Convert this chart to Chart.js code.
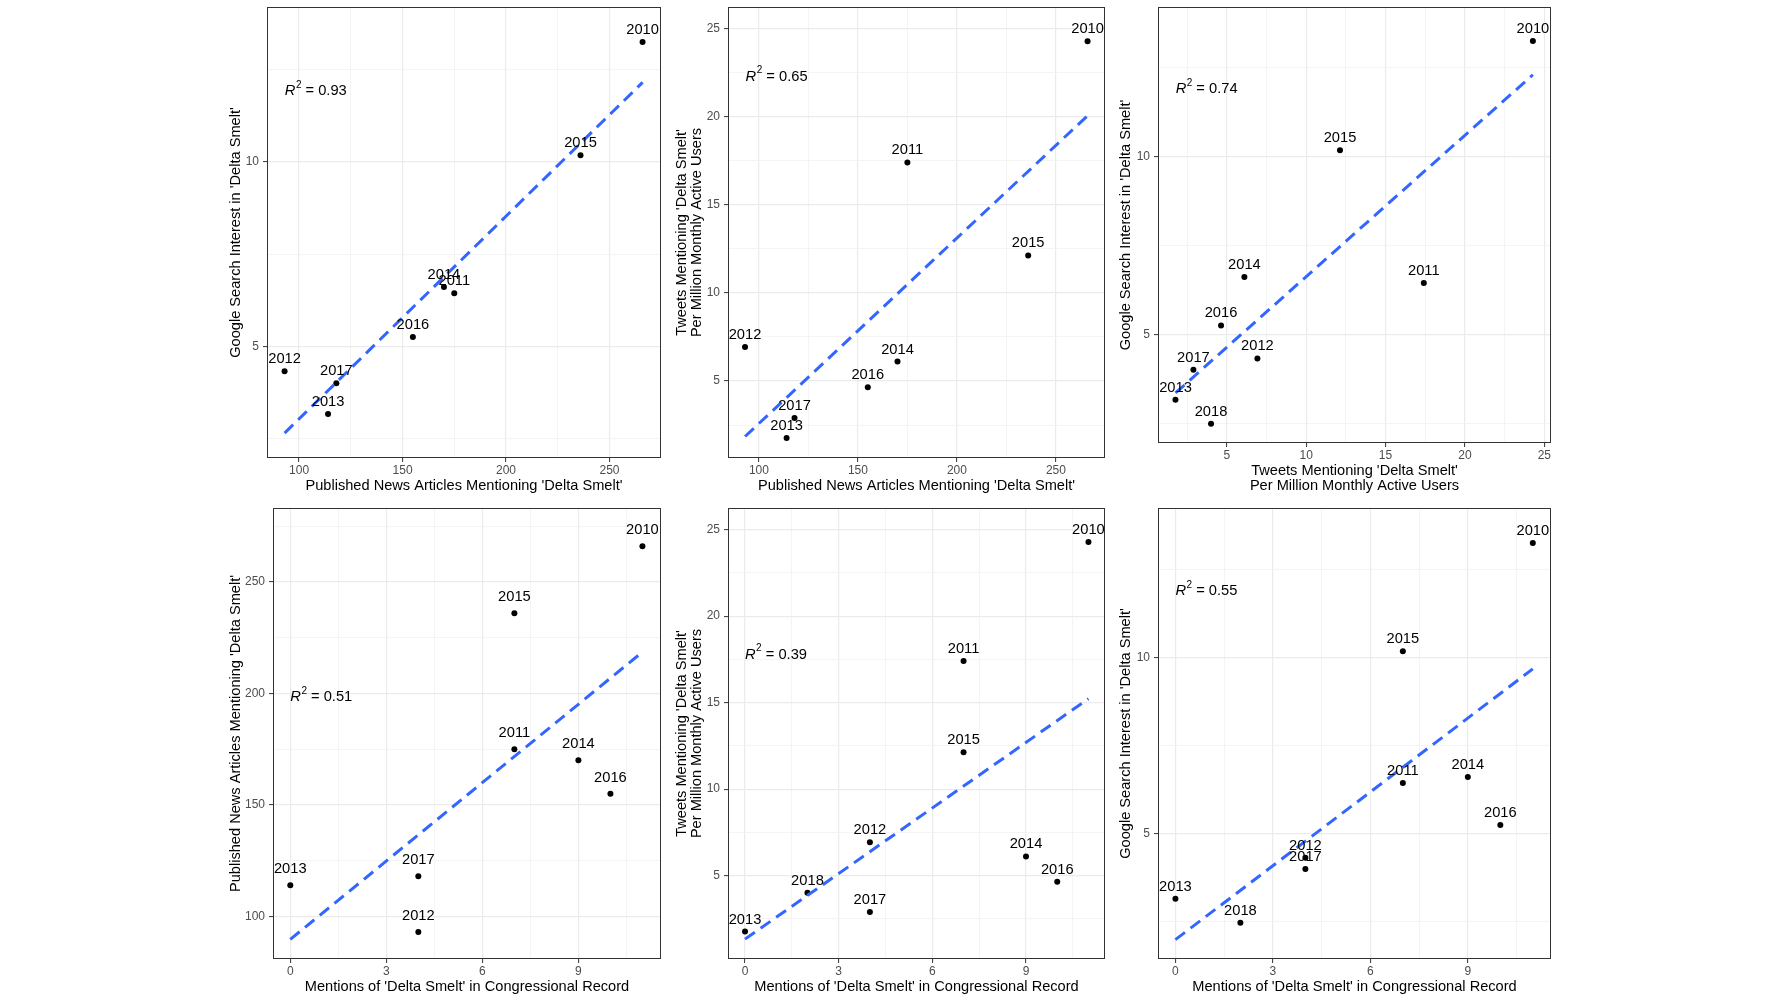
<!DOCTYPE html>
<html>
<head>
<meta charset="utf-8">
<script src="https://cdn.jsdelivr.net/npm/chart.js@4.4.1/dist/chart.umd.min.js"></script>
<style>
html,body{margin:0;padding:0;background:#ffffff;}
body{width:1781px;height:1002px;position:relative;overflow:hidden;}
canvas{position:absolute;}
</style>
</head>
<body>
<canvas id="c0"></canvas>
<canvas id="c1"></canvas>
<canvas id="c2"></canvas>
<canvas id="c3"></canvas>
<canvas id="c4"></canvas>
<canvas id="c5"></canvas>
<script>
// ---------------- data ----------------
const years    = [2010, 2011, 2012, 2013, 2014, 2015, 2016, 2017, 2018];
const news     = [266, 175, 93, 114, 170, 236, 155, 118, null];
const google   = [13.25, 6.44, 4.32, 3.16, 6.61, 10.18, 5.25, 4.0, 2.48];
const tweets   = [24.28, 17.41, 6.93, 1.77, 6.11, 12.13, 4.64, 2.9, 4.01];
const congress = [11, 7, 4, 0, 9, 7, 10, 4, 2];

const r2Labels = ['0.93', '0.65', '0.74', '0.51', '0.39', '0.55'];
const r2X      = [93.1, 93.3, 1.78, 0, 0, 0];
const r2Y      = [11.94, 22.33, 11.93, 198.7, 17.83, 11.92];

const ticksNews     = [100, 150, 200, 250];
const ticksGoogle   = [5, 10];
const ticksTweets   = [5, 10, 15, 20, 25];
const ticksCongress = [0, 3, 6, 9];

const titleNews     = "Published News Articles Mentioning 'Delta Smelt'";
const titleGoogle   = "Google Search Interest in 'Delta Smelt'";
const titleTweets   = ["Tweets Mentioning 'Delta Smelt'", "Per Million Monthly Active Users"];
const titleCongress = "Mentions of 'Delta Smelt' in Congressional Record";

const series = {news, google, tweets, congress};
const ticksOf = {news: ticksNews, google: ticksGoogle, tweets: ticksTweets, congress: ticksCongress};
const titleOf = {news: titleNews, google: titleGoogle, tweets: titleTweets, congress: titleCongress};

// ---------------- layout / style ----------------
const FONT = "'Liberation Sans', Arial, Helvetica, sans-serif";
const panels = [
  {x:'news',     y:'google', xr:[84.5, 274.9],  yr:[1.97, 14.2],  g:{left:228,  top:7,   w:433, h:487, wy:39, hx:36}, off:13},
  {x:'news',     y:'tweets', xr:[84.4, 274.8],  yr:[0.63, 26.23], g:{left:674,  top:7,   w:431, h:487, wy:54, hx:36}, off:13},
  {x:'tweets',   y:'google', xr:[0.67, 25.42],  yr:[1.94, 14.21], g:{left:1118, top:7,   w:433, h:487, wy:40, hx:51}, off:13},
  {x:'congress', y:'news',   xr:[-0.54, 11.58], yr:[80.9, 283.2], g:{left:228,  top:508, w:433, h:487, wy:45, hx:36}, off:17},
  {x:'congress', y:'tweets', xr:[-0.545, 11.53],yr:[0.18, 26.25], g:{left:674,  top:508, w:431, h:487, wy:54, hx:36}, off:13},
  {x:'congress', y:'google', xr:[-0.536, 11.56],yr:[1.45, 14.24], g:{left:1118, top:508, w:433, h:487, wy:40, hx:36}, off:13}
];

function withMinor(major, lo, hi) {
  const step = major[1] - major[0];
  const all = major.slice();
  for (let v = major[0] - step / 2; v <= hi; v += step) {
    if (v >= lo) all.push(Math.round(v * 1000) / 1000);
  }
  return all.sort((a, b) => a - b);
}

function axisOpts(kind, major, range, title, g, isX) {
  const all = withMinor(major, range[0], range[1]);
  const isMajor = v => major.includes(v);
  return {
    type: 'linear',
    position: isX ? 'bottom' : 'left',
    min: range[0], max: range[1],
    afterBuildTicks: s => { s.ticks = all.map(v => ({value: v})); },
    afterFit: s => {
      if (isX) s.height = g.hx; else s.width = g.wy;
      s.paddingTop = 0; s.paddingBottom = 0; s.paddingLeft = 0; s.paddingRight = 0;
    },
    ticks: {
      callback: v => isMajor(v) ? String(v) : '',
      font: {family: FONT, size: 12},
      color: '#4D4D4D',
      padding: isX ? 1 : 4,
      autoSkip: false, maxRotation: 0, minRotation: 0
    },
    grid: {
      color: c => (c.tick && isMajor(c.tick.value)) ? '#EBEBEB' : '#F1F1F1',
      lineWidth: c => (c.tick && isMajor(c.tick.value)) ? 1.2 : 0.8,
      drawTicks: true,
      tickLength: 4,
      tickWidth: 1,
      tickColor: c => (c.tick && isMajor(c.tick.value)) ? '#333333' : 'rgba(0,0,0,0)'
    },
    border: {display: false},
    title: {
      display: true, text: title, color: '#000000', padding: 0,
      font: {family: FONT, size: 14.6, lineHeight: 1.06}
    }
  };
}

function makeChart(i) {
  const p = panels[i];
  const xs = series[p.x], ys = series[p.y];
  const pts = [];
  years.forEach((yr, k) => {
    if (xs[k] != null && ys[k] != null) pts.push({x: xs[k], y: ys[k], year: yr});
  });
  // least-squares fit (as geom_smooth(method = "lm"))
  const n = pts.length;
  const mx = pts.reduce((a, q) => a + q.x, 0) / n;
  const my = pts.reduce((a, q) => a + q.y, 0) / n;
  let sxy = 0, sxx = 0;
  pts.forEach(q => { sxy += (q.x - mx) * (q.y - my); sxx += (q.x - mx) * (q.x - mx); });
  const b = sxy / sxx, a = my - b * mx;
  const xmin = Math.min(...pts.map(q => q.x)), xmax = Math.max(...pts.map(q => q.x));
  const fit = [{x: xmin, y: a + b * xmin}, {x: xmax, y: a + b * xmax}];

  const g = p.g;
  const cv = document.getElementById('c' + i);
  cv.width = g.w; cv.height = g.h;
  cv.style.left = g.left + 'px'; cv.style.top = g.top + 'px';
  cv.style.width = g.w + 'px'; cv.style.height = g.h + 'px';

  const labelPlugin = {
    id: 'yearLabels' + i,
    afterDatasetsDraw(chart) {
      const {ctx} = chart;
      const sx = chart.scales.x, sy = chart.scales.y;
      ctx.save();
      ctx.fillStyle = '#000000';
      ctx.textAlign = 'center';
      ctx.textBaseline = 'middle';
      ctx.font = '14.7px ' + FONT;
      pts.forEach(q => {
        ctx.fillText(String(q.year), sx.getPixelForValue(q.x), sy.getPixelForValue(q.y) - p.off + 1);
      });
      // R^2 annotation
      let px = sx.getPixelForValue(r2X[i]);
      const py = sy.getPixelForValue(r2Y[i]) + 1;
      ctx.textAlign = 'left';
      ctx.font = 'italic 14.7px ' + FONT;
      ctx.fillText('R', px, py);
      px += ctx.measureText('R').width + 0.5;
      ctx.font = '10px ' + FONT;
      ctx.fillText('2', px, py - 6);
      px += ctx.measureText('2').width;
      ctx.font = '14.7px ' + FONT;
      ctx.fillText(' = ' + r2Labels[i], px, py);
      ctx.restore();
    },
    afterDraw(chart) {
      const {ctx, chartArea: ca} = chart;
      ctx.save();
      ctx.strokeStyle = '#333333';
      ctx.lineWidth = 1;
      ctx.strokeRect(ca.left + 0.5, ca.top + 0.5, ca.right - ca.left - 1, ca.bottom - ca.top - 1);
      ctx.restore();
    }
  };

  new Chart(cv, {
    type: 'scatter',
    data: {
      datasets: [
        {type: 'line', data: fit, borderColor: '#3366FF', borderWidth: 3, borderDash: [12, 7],
         pointRadius: 0, fill: false, order: 0, tension: 0},
        {data: pts, backgroundColor: '#000000', borderWidth: 0, pointRadius: 3, order: 1}
      ]
    },
    options: {
      responsive: false, animation: false, devicePixelRatio: 1, events: [],
      layout: {padding: 0, autoPadding: false},
      plugins: {legend: {display: false}, tooltip: {enabled: false}},
      scales: {
        x: axisOpts(p.x, ticksOf[p.x], p.xr, titleOf[p.x], g, true),
        y: axisOpts(p.y, ticksOf[p.y], p.yr, titleOf[p.y], g, false)
      }
    },
    plugins: [labelPlugin]
  });
}

for (let i = 0; i < panels.length; i++) makeChart(i);
</script>
</body>
</html>
